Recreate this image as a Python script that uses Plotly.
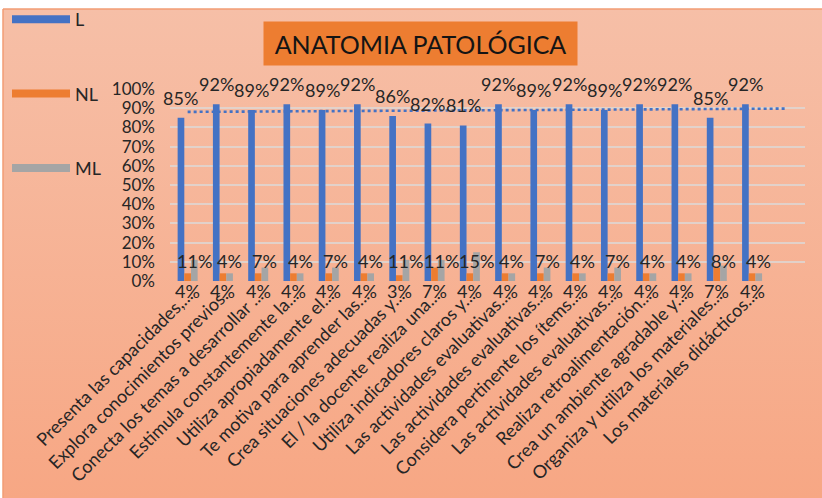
import base64
import numpy as np
import plotly.graph_objects as go

# ---- data -------------------------------------------------------------
items = [
    "Presenta las capacidades,...",
    "Explora conocimientos previos.",
    "Conecta los temas a desarrollar ...",
    "Estimula constantemente la...",
    "Utiliza apropiadamente el...",
    "Te motiva para aprender las...",
    "Crea situaciones adecuadas y...",
    "El / la docente realiza una...",
    "Utiliza indicadores claros y...",
    "Las actividades evaluativas...",
    "Las actividades evaluativas...",
    "Considera pertinente los ítems...",
    "Las actividades evaluativas...",
    "Realiza retroalimentación...",
    "Crea un ambiente agradable y...",
    "Organiza y utiliza los materiales...",
    "Los materiales didácticos...",
]
L_vals = [85, 92, 89, 92, 89, 92, 86, 82, 81, 92, 89, 92, 89, 92, 92, 85, 92]
NL_vals = [4, 4, 4, 4, 4, 4, 3, 7, 4, 4, 4, 4, 4, 4, 4, 7, 4]
ML_vals = [11, 4, 7, 4, 7, 4, 11, 11, 15, 4, 7, 4, 7, 4, 4, 8, 4]

series_names = ["L", "NL", "ML"]
series_colors = ["#4472C4", "#ED7D31", "#A5A5A5"]
title_text = "ANATOMIA PATOLÓGICA"

# ---- layout constants (pixels) ---------------------------------------
W, H = 822, 498
PL, PR, PT, PB = 170, 805, 89, 281          # plot area edges
FONT = "Lato"
TXT = "#262626"

def px_x(px):
    return (px - PL) / (PR - PL)

def px_y(py):
    return (PB - py) / (PB - PT)

idx = np.arange(len(items))
bargap = 0.433
bar_w = (1 - bargap) / 3
offsets = [-bar_w, 0.0, bar_w]

fig = go.Figure()

for name, vals, col in zip(series_names, [L_vals, NL_vals, ML_vals], series_colors):
    fig.add_trace(go.Bar(x=idx, y=vals, name=name, marker_color=col,
                         marker_line_width=0, showlegend=False, hoverinfo="skip"))

# linear trend of the L series, carried one period forward
coef = np.polyfit(idx, L_vals, 1)
tx = np.array([0, len(items)])
fig.add_trace(go.Scatter(x=tx, y=np.polyval(coef, tx), mode="lines",
                         line=dict(color="#4472C4", width=2.6, dash="dot"),
                         showlegend=False, hoverinfo="skip"))

# legend entries drawn as wide strokes
for i, (name, col) in enumerate(zip(series_names, series_colors)):
    fig.add_trace(go.Scatter(x=[None], y=[None], mode="lines", name=name,
                             line=dict(color=col, width=8), legendgroup=name,
                             showlegend=True))

annotations = []
for i in idx:
    annotations.append(dict(x=i + offsets[0], y=L_vals[i], text=f"{L_vals[i]}%",
                            showarrow=False, yshift=20, yanchor="middle",
                            font=dict(family=FONT, size=18, color=TXT)))
    annotations.append(dict(x=i + offsets[1], y=0, text=f"{NL_vals[i]}%",
                            showarrow=False, yshift=-10, yanchor="middle",
                            font=dict(family=FONT, size=18, color=TXT)))
    annotations.append(dict(x=i + offsets[2], y=0, text=f"{ML_vals[i]}%",
                            showarrow=False, yshift=20, yanchor="middle",
                            font=dict(family=FONT, size=18, color=TXT)))

annotations.append(dict(xref="paper", yref="paper", x=px_x(420.5), y=px_y(43.5),
                        xanchor="center", yanchor="middle", showarrow=False,
                        text=title_text, bgcolor="#ED7D31", width=309, height=39,
                        borderpad=2,
                        font=dict(family=FONT, size=25, color="#141414")))

# soft vertical gradient behind the whole chart
svg = (
    f'<svg xmlns="http://www.w3.org/2000/svg" width="{W}" height="{H}">'
    '<defs><linearGradient id="g" x1="0" y1="0" x2="0" y2="1">'
    '<stop offset="0" stop-color="#F6BFA7"/>'
    '<stop offset="1" stop-color="#F7A784"/>'
    '</linearGradient></defs>'
    f'<rect x="0" y="0" width="{W}" height="{H}" fill="url(#g)"/></svg>'
)
bg_src = "data:image/svg+xml;base64," + base64.b64encode(svg.encode()).decode()

fig.update_layout(
    width=W, height=H, autosize=False,
    margin=dict(l=PL, r=W - PR, t=PT, b=H - PB, pad=0, autoexpand=False),
    paper_bgcolor="white", plot_bgcolor="rgba(0,0,0,0)",
    barmode="group", bargap=bargap, bargroupgap=0,
    font=dict(family=FONT, size=17, color=TXT),
    images=[dict(source=bg_src, xref="paper", yref="paper",
                 x=px_x(3), y=px_y(9), sizex=px_x(W) - px_x(3),
                 sizey=px_y(9) - px_y(H), xanchor="left", yanchor="top",
                 sizing="stretch", layer="below")],
    shapes=[
        dict(type="line", xref="paper", yref="paper", x0=px_x(3), x1=px_x(W),
             y0=px_y(9), y1=px_y(9), line=dict(color="#F29C74", width=1.5)),
        dict(type="line", xref="paper", yref="paper", x0=px_x(3), x1=px_x(3),
             y0=px_y(9), y1=px_y(H), line=dict(color="#F29C74", width=1.5)),
    ],
    annotations=annotations,
    showlegend=True,
    legend=dict(x=px_x(7), y=px_y(1), xanchor="left", yanchor="top",
                bgcolor="rgba(0,0,0,0)", itemwidth=58, tracegroupgap=48,
                font=dict(family=FONT, size=18, color=TXT),
                itemclick=False, itemdoubleclick=False),
    xaxis=dict(range=[-0.5, len(items) + 0.5], tickmode="array",
               tickvals=idx, ticktext=items, tickangle=-45,
               showgrid=False, zeroline=False, showline=False, ticks="",
               tickfont=dict(family=FONT, size=18, color=TXT)),
    yaxis=dict(range=[0, 100], dtick=10, ticksuffix="%",
               showgrid=True, gridcolor="rgba(222,214,210,0.85)", gridwidth=1.5,
               zeroline=False, showline=False, ticks="", ticklabelstandoff=14,
               tickfont=dict(family=FONT, size=17, color=TXT)),
)

fig.write_html("out.html")
